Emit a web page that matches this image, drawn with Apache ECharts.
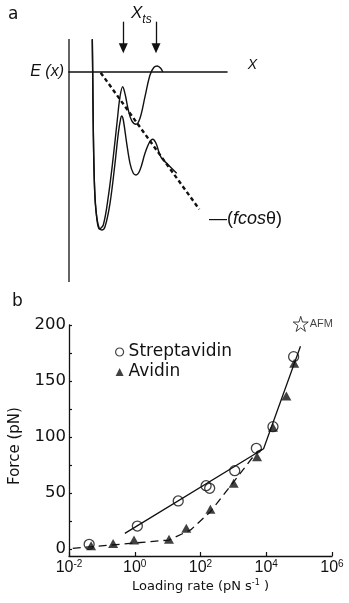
<!DOCTYPE html>
<html>
<head>
<meta charset="utf-8">
<script src="https://cdn.jsdelivr.net/npm/echarts@6/dist/echarts.min.js"></script>
<style>
  html, body { margin: 0; background: #fff; }
  #chart { width: 349px; height: 603px; }
</style>
</head>
<body>
<div id="chart"></div>
<script>
// ---- panel a: schematic energy landscape, arbitrary units (x to the right, E up) ----
const upperCurve = [
  [2.33, 3.27], [2.37, -0.13], [2.43, -5.8], [2.53, -10.8], [2.7, -13.8], [3.03, -15.7],
  [3.43, -15.3], [3.93, -12.47], [4.43, -8.47], [4.83, -4.8], [5.1, -2.47], [5.37, -1.47],
  [5.63, -2.3], [5.93, -3.8], [6.27, -4.87], [6.7, -5.23], [7.1, -4.63], [7.6, -2.47],
  [8.1, -0.3], [8.5, 0.47], [8.83, 0.6], [9.17, 0.37], [9.37, 0]
];
const lowerCurve = [
  [2.33, 3.27], [2.37, -0.13], [2.43, -5.8], [2.53, -10.8], [2.63, -13.13], [2.77, -14.47],
  [3.03, -15.63], [3.27, -15.8], [3.6, -15.47], [4.1, -13.13], [4.6, -9.13], [4.93, -6.13],
  [5.17, -4.63], [5.27, -4.4], [5.43, -4.8], [5.77, -7.13], [6.1, -9.13], [6.43, -10.13],
  [6.7, -10.3], [7.1, -9.8], [7.6, -8.13], [8.03, -7.07], [8.37, -6.73], [8.7, -7.13],
  [9.03, -8.13], [9.27, -8.63], [9.77, -9.13], [10.77, -10.13]
];
const forceTilt = [[3.17, -0.07], [13.03, -13.73]];
const energyAxis = [[0, 3.3], [0, -21]];
const xtsArrowX = [5.43, 8.7];
const xtsArrowE = [5.03, 2.37];

// ---- panel b: rupture force vs loading rate ----
const streptavidinRate = [0.041, 1.2, 21, 148, 190, 1100, 5000, 1.6e4, 6.8e4];
const streptavidinForce = [4.2, 20.5, 42.9, 56.5, 54.2, 69.9, 89.9, 109.2, 171.7];
const avidinRate = [0.047, 0.22, 0.95, 11, 37, 200, 1020, 5250, 1.6e4, 4.1e4, 7.1e4];
const avidinForce = [3, 5, 8, 8.7, 18.5, 35.4, 58.6, 82.4, 108.6, 136.6, 165.8];
const streptavidinFitRate = [0.5, 8300, 1.1e5];
const streptavidinFitForce = [14, 89.5, 181];
const avidinFitRate = [0.013, 11, 50, 200, 1020, 5250, 8300];
const avidinFitForce = [0.6, 8, 17, 33.3, 60, 86.9, 89.5];
const afmRate = [1.12e5];
const afmForce = [201];
const forceLabels = [0, 50, 100, 150, 200];
const forceTicks = [0, 25, 50, 75, 100, 125, 150, 175, 200];

const ink = '#111';
const sans = 'DejaVu Sans';
const arial = 'Liberation Sans';

const zip = (xs, ys) => xs.map((x, i) => [x, ys[i]]);
const starPath = 'path://M50,2 L61,36 L97,36 L68,57 L79,92 L50,71 L21,92 L32,57 L3,36 L39,36 Z';

const chart = echarts.init(document.getElementById('chart'));

chart.setOption({
  backgroundColor: '#fff',
  animation: false,
  grid: [
    { left: 69, top: 19, width: 158, height: 263 },
    { left: 68, top: 325, width: 264, height: 231 }
  ],
  xAxis: [
    {
      gridIndex: 0, type: 'value', min: 0, max: 15.8,
      axisLine: { onZero: true, lineStyle: { color: ink, width: 1.6 } },
      axisTick: { show: false }, axisLabel: { show: false }, splitLine: { show: false }
    },
    {
      gridIndex: 1, type: 'log', logBase: 10, min: 0.01, max: 1e6, interval: 2,
      axisLine: { onZero: false, lineStyle: { color: ink, width: 1.3 } },
      axisTick: { inside: true, length: 4, lineStyle: { color: ink, width: 1.2 } },
      minorTick: { show: false },
      splitLine: { show: false },
      axisLabel: {
        margin: 3,
        color: ink,
        fontFamily: arial,
        fontSize: 16,
        lineHeight: 18,
        formatter: (v) => '10{sup|' + Math.round(Math.log10(v)) + '}',
        rich: { sup: { fontFamily: arial, fontSize: 10, lineHeight: 10, verticalAlign: 'top', color: ink } }
      },
      name: 'Loading rate (pN s{sup|-1} )',
      nameLocation: 'middle',
      nameGap: 23,
      nameTextStyle: {
        fontFamily: sans, fontSize: 13, lineHeight: 15, color: ink,
        rich: { sup: { fontFamily: sans, fontSize: 8, lineHeight: 8, verticalAlign: 'top', color: ink } }
      }
    }
  ],
  yAxis: [
    {
      gridIndex: 0, type: 'value', min: -21, max: 5.3,
      axisLine: { show: false }, axisTick: { show: false }, axisLabel: { show: false }, splitLine: { show: false }
    },
    {
      gridIndex: 1, type: 'value', min: -6.25, max: 200,
      axisLine: { onZero: false, lineStyle: { color: ink, width: 1.3 } },
      axisTick: { inside: true, length: 3, customValues: forceTicks, lineStyle: { color: ink, width: 1.2 } },
      axisLabel: { customValues: forceLabels, margin: 3, color: ink, fontFamily: sans, fontSize: 16.5 },
      splitLine: { show: false },
      name: 'Force (pN)',
      nameLocation: 'middle',
      nameGap: 46,
      nameTextStyle: { fontFamily: sans, fontSize: 15, color: ink, padding: [0, 11, 0, 0] }
    }
  ],
  legend: {
    orient: 'vertical',
    left: 115,
    top: 343,
    padding: 0,
    itemWidth: 8,
    itemHeight: 8,
    itemGap: 2,
    selectedMode: false,
    textStyle: { fontFamily: sans, fontSize: 17, lineHeight: 18, color: ink },
    data: [
      { name: 'Streptavidin', icon: 'circle', itemStyle: { color: 'rgba(0,0,0,0)', borderColor: ink, borderWidth: 1.2 } },
      { name: 'Avidin', icon: 'triangle', itemStyle: { color: ink, borderWidth: 0 } }
    ]
  },
  graphic: [
    { type: 'text', x: 8, y: 15, style: { text: 'a', fill: ink, fontFamily: sans, fontSize: 17, align: 'left', verticalAlign: 'middle' } },
    { type: 'text', x: 12, y: 302, style: { text: 'b', fill: ink, fontFamily: sans, fontSize: 17, align: 'left', verticalAlign: 'middle' } },
    { type: 'text', x: 64, y: 72, style: { text: 'E (x)', fill: ink, fontFamily: arial, fontStyle: 'italic', fontSize: 16, align: 'right', verticalAlign: 'middle' } },
    { type: 'text', x: 252.5, y: 65, style: { text: 'X', fill: ink, fontFamily: arial, fontStyle: 'italic', fontSize: 14, align: 'center', verticalAlign: 'middle' } },
    { type: 'text', x: 136.7, y: 13.3, style: { text: 'X', fill: ink, fontFamily: arial, fontStyle: 'italic', fontSize: 17, align: 'center', verticalAlign: 'middle' } },
    { type: 'text', x: 147, y: 20, style: { text: 'ts', fill: ink, fontFamily: arial, fontStyle: 'italic', fontSize: 12, align: 'center', verticalAlign: 'middle' } },
    {
      type: 'text', x: 209, y: 219,
      style: {
        text: '\u2014({i|fcos}\u03b8)', fill: ink, fontFamily: arial, fontSize: 18, align: 'left', verticalAlign: 'middle',
        rich: { i: { fontFamily: arial, fontStyle: 'italic', fontSize: 18, fill: ink, color: ink } }
      }
    }
  ],
  series: [
    {
      type: 'line', xAxisIndex: 0, yAxisIndex: 0, data: upperCurve,
      showSymbol: false, smooth: 0.35, clip: false, silent: true,
      lineStyle: { color: ink, width: 1.4 },
      markLine: {
        silent: true,
        symbol: ['none', 'triangle'],
        symbolSize: [9, 10],
        label: { show: false },
        lineStyle: { color: ink, width: 1.3, type: 'solid' },
        itemStyle: { color: ink },
        data: xtsArrowX.map((x) => [{ coord: [x, xtsArrowE[0]] }, { coord: [x, xtsArrowE[1]] }])
      }
    },
    {
      type: 'line', xAxisIndex: 0, yAxisIndex: 0, data: lowerCurve,
      showSymbol: false, smooth: 0.35, clip: false, silent: true,
      lineStyle: { color: ink, width: 1.4 }
    },
    {
      type: 'line', xAxisIndex: 0, yAxisIndex: 0, data: forceTilt,
      showSymbol: false, clip: false, silent: true,
      lineStyle: { color: ink, width: 2.4, type: [4, 3] }
    },
    {
      type: 'line', xAxisIndex: 0, yAxisIndex: 0, data: energyAxis,
      showSymbol: false, clip: false, silent: true,
      lineStyle: { color: ink, width: 1.3 }
    },
    {
      type: 'line', xAxisIndex: 1, yAxisIndex: 1, data: zip(streptavidinFitRate, streptavidinFitForce),
      showSymbol: false, silent: true,
      lineStyle: { color: ink, width: 1.3 }
    },
    {
      type: 'line', xAxisIndex: 1, yAxisIndex: 1, data: zip(avidinFitRate, avidinFitForce),
      showSymbol: false, silent: true,
      lineStyle: { color: ink, width: 1.3, type: [8, 5] }
    },
    {
      name: 'Streptavidin', type: 'scatter', xAxisIndex: 1, yAxisIndex: 1,
      data: zip(streptavidinRate, streptavidinForce),
      symbol: 'circle', symbolSize: 10,
      itemStyle: { color: 'rgba(0,0,0,0)', borderColor: ink, borderWidth: 1.3 }
    },
    {
      name: 'Avidin', type: 'scatter', xAxisIndex: 1, yAxisIndex: 1,
      data: zip(avidinRate, avidinForce),
      symbol: 'triangle', symbolSize: [10, 9],
      itemStyle: { color: ink }
    },
    {
      type: 'scatter', xAxisIndex: 1, yAxisIndex: 1, clip: false,
      data: zip(afmRate, afmForce),
      symbol: starPath, symbolSize: 15,
      itemStyle: { color: 'rgba(0,0,0,0)', borderColor: ink, borderWidth: 1 },
      label: { show: true, position: 'right', distance: 1, formatter: 'AFM', fontFamily: arial, fontSize: 11, color: ink }
    }
  ]
});
</script>
</body>
</html>
